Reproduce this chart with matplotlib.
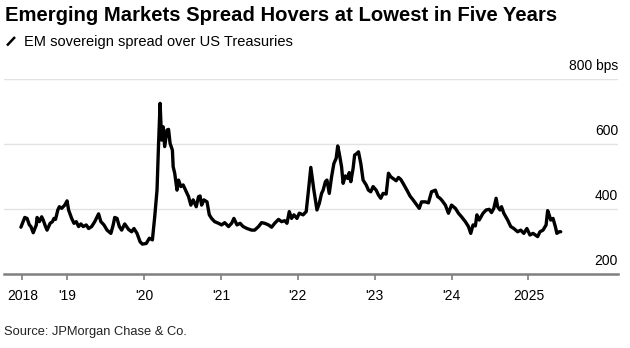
import numpy as np
import matplotlib.pyplot as plt
from matplotlib.lines import Line2D

# data (decimal years, bps)
lata = [2018.40, 2018.45, 2018.48, 2018.51, 2018.53, 2018.56, 2018.60, 2018.61, 2018.64, 2018.67,
        2018.69, 2018.72, 2018.74, 2018.78, 2018.81, 2018.83, 2018.85, 2018.88, 2018.90, 2018.93,
        2018.95, 2018.97, 2019.00, 2019.02, 2019.06, 2019.09, 2019.12, 2019.15, 2019.18, 2019.21,
        2019.25, 2019.28, 2019.32, 2019.36, 2019.41, 2019.44, 2019.48, 2019.52, 2019.57, 2019.60,
        2019.62, 2019.65, 2019.68, 2019.71, 2019.75, 2019.80, 2019.84, 2019.87, 2019.91, 2019.95,
        2019.98, 2020.03, 2020.07, 2020.11, 2020.14, 2020.17, 2020.19, 2020.21, 2020.23, 2020.25,
        2020.27, 2020.30, 2020.32, 2020.34, 2020.37, 2020.38, 2020.40, 2020.43, 2020.45, 2020.48,
        2020.51, 2020.55, 2020.58, 2020.61, 2020.64, 2020.68, 2020.71, 2020.73, 2020.75, 2020.78,
        2020.82, 2020.85, 2020.88, 2020.92, 2020.97, 2021.01, 2021.05, 2021.10, 2021.14, 2021.17,
        2021.21, 2021.25, 2021.29, 2021.34, 2021.40, 2021.44, 2021.49, 2021.53, 2021.57, 2021.62,
        2021.66, 2021.70, 2021.75, 2021.79, 2021.83, 2021.86, 2021.89, 2021.92, 2021.95, 2021.99,
        2022.02, 2022.07, 2022.11, 2022.14, 2022.17, 2022.20, 2022.21, 2022.25, 2022.28, 2022.31,
        2022.33, 2022.36, 2022.38, 2022.41, 2022.44, 2022.47, 2022.50, 2022.52, 2022.54, 2022.57,
        2022.59, 2022.62, 2022.65, 2022.67, 2022.69, 2022.72, 2022.74, 2022.77, 2022.79, 2022.82,
        2022.85, 2022.89, 2022.92, 2022.95, 2022.98, 2023.02, 2023.05, 2023.08, 2023.11, 2023.15,
        2023.18, 2023.21, 2023.24, 2023.28, 2023.31, 2023.34, 2023.37, 2023.42, 2023.46, 2023.50,
        2023.55, 2023.58, 2023.61, 2023.66, 2023.70, 2023.74, 2023.79, 2023.82, 2023.85, 2023.87,
        2023.92, 2023.96, 2024.00, 2024.05, 2024.09, 2024.13, 2024.18, 2024.22, 2024.25, 2024.28,
        2024.31, 2024.33, 2024.36, 2024.41, 2024.45, 2024.49, 2024.52, 2024.55, 2024.58, 2024.60,
        2024.63, 2024.65, 2024.68, 2024.73, 2024.77, 2024.81, 2024.86, 2024.90, 2024.94, 2024.98,
        2025.02, 2025.06, 2025.12, 2025.15, 2025.19, 2025.23, 2025.25, 2025.27, 2025.29, 2025.32,
        2025.35, 2025.37, 2025.40, 2025.42]
spread = [344, 374, 371, 351, 346, 327, 351, 374, 361, 376,
          366, 346, 335, 356, 361, 371, 368, 397, 407, 402,
          407, 412, 425, 397, 371, 356, 361, 346, 354, 346,
          351, 340, 346, 361, 385, 361, 351, 335, 325, 351,
          374, 371, 346, 335, 354, 337, 330, 340, 325, 299,
          292, 294, 310, 305, 376, 458, 600, 725, 612, 653,
          592, 643, 645, 602, 581, 530, 510, 458, 489, 469,
          474, 453, 438, 412, 428, 407, 438, 440, 412, 428,
          422, 382, 371, 361, 356, 351, 358, 346, 356, 371,
          351, 356, 346, 340, 335, 335, 346, 358, 356, 351,
          344, 356, 368, 361, 364, 356, 392, 371, 382, 371,
          387, 382, 392, 458, 528, 474, 458, 397, 417, 448,
          458, 484, 489, 448, 499, 540, 556, 594, 571, 530,
          479, 502, 494, 512, 484, 525, 566, 571, 576, 540,
          489, 474, 458, 453, 469, 458, 443, 433, 448, 446,
          510, 499, 494, 487, 497, 491, 479, 458, 440, 428,
          412, 402, 422, 422, 419, 453, 458, 438, 433, 428,
          412, 387, 412, 402, 387, 376, 361, 346, 325, 351,
          348, 382, 366, 387, 397, 399, 389, 402, 433, 407,
          397, 407, 387, 366, 346, 340, 330, 335, 325, 340,
          320, 325, 315, 330, 335, 351, 395, 382, 366, 371,
          346, 325, 330, 330]

tick_poz = [2018.42, 2019, 2020, 2021, 2022, 2023, 2024, 2025]
tick_lab = ['2018', "'19", "'20", "'21", "'22", "'23", "'24", '2025']
y_poz = [200, 400, 600, 800]
y_lab = ['200', '400', '600', '800 bps']

plt.rcParams['font.family'] = ['Liberation Sans', 'DejaVu Sans']

W, H = 630, 348
fig = plt.figure(figsize=(W / 100, H / 100), dpi=100)
ax = fig.add_axes([4 / W, 1 - 274 / H, (618 - 4) / W, (274 - 79) / H])

ax.plot(lata, spread, color='black', lw=2.4, solid_joinstyle='round', solid_capstyle='round', zorder=3)

ax.set_xlim(2018.18, 2026.165)
ax.set_ylim(200, 800)

# siatka pozioma
for v in y_poz[1:]:
    ax.axhline(v, color='#e2e2e2', lw=1.0, zorder=1)
for v, s in zip(y_poz, y_lab):
    ax.annotate(s, xy=(1.0, v), xycoords=ax.get_yaxis_transform(), xytext=(0, 6.5),
                textcoords='offset points', ha='right', va='baseline', fontsize=10, color='black')

for sp in ['top', 'right', 'left']:
    ax.spines[sp].set_visible(False)
ax.spines['bottom'].set_color('#7f7f7f')
ax.spines['bottom'].set_linewidth(1.8)
ax.set_yticks([])
ax.set_xticks(tick_poz)
ax.set_xticklabels(tick_lab, fontsize=10)
ax.tick_params(axis='x', length=4, width=1.2, color='#7f7f7f', pad=7)

fig.text(5 / W, 1 - 21 / H, 'Emerging Markets Spread Hovers at Lowest in Five Years',
         fontsize=14.6, fontweight='bold', va='baseline', ha='left')
fig.text(23.5 / W, 1 - 45.7 / H, 'EM sovereign spread over US Treasuries',
         fontsize=10.5, va='baseline', ha='left')
fig.add_artist(Line2D([7 / W, 15 / W], [1 - 45.5 / H, 1 - 37 / H], color='black', lw=1.8,
                      solid_capstyle='butt', transform=fig.transFigure))
fig.text(4 / W, 1 - 335 / H, 'Source: JPMorgan Chase & Co.', fontsize=9.3, va='baseline',
         ha='left', color='#222222')

fig.savefig('out.png', dpi=100)
